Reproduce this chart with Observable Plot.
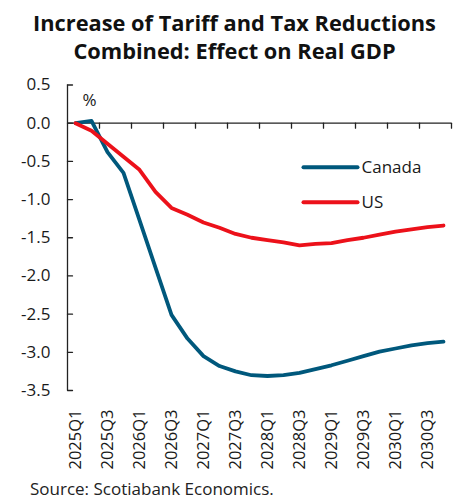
<!DOCTYPE html>
<html>
<head>
<meta charset="utf-8">
<script src="https://cdn.jsdelivr.net/npm/d3@7"></script>
<script src="https://cdn.jsdelivr.net/npm/@observablehq/plot@0.6"></script>
<style>
  html, body { margin: 0; padding: 0; background: #fff; }
  body { width: 469px; height: 500px; overflow: hidden; font-family: "Open Sans", sans-serif; color: #1a1a1a; }
  #title { font-weight: 700; font-size: 21.8px; line-height: 28px; text-align: center; padding-top: 9px; height: 55px; color: #111; white-space: nowrap; }
  #caption { font-size: 17px; line-height: 18px; padding-left: 30px; color: #222; }
  #chart svg { display: block; }
</style>
</head>
<body>
<div id="title">Increase of Tariff and Tax Reductions<br>Combined: Effect on Real GDP</div>
<div id="chart"></div>
<div id="caption">Source: Scotiabank Economics.</div>
<script>
const quarters = [
  "2025Q1","2025Q2","2025Q3","2025Q4",
  "2026Q1","2026Q2","2026Q3","2026Q4",
  "2027Q1","2027Q2","2027Q3","2027Q4",
  "2028Q1","2028Q2","2028Q3","2028Q4",
  "2029Q1","2029Q2","2029Q3","2029Q4",
  "2030Q1","2030Q2","2030Q3","2030Q4"
];
const canada = [0, 0.03, -0.38, -0.65, -1.27, -1.89, -2.51, -2.82, -3.05, -3.18, -3.25, -3.30,
                -3.31, -3.30, -3.27, -3.22, -3.17, -3.11, -3.05, -2.99, -2.95, -2.91, -2.88, -2.86];
const us = [0, -0.10, -0.27, -0.44, -0.61, -0.90, -1.11, -1.20, -1.30, -1.37, -1.45, -1.50,
            -1.53, -1.56, -1.60, -1.58, -1.57, -1.53, -1.50, -1.46, -1.42, -1.39, -1.36, -1.34];
const seriesNames = ["Canada", "US"];
const seriesColors = ["#00587c", "#ec111a"];
const yTicks = [0.5, 0, -0.5, -1, -1.5, -2, -2.5, -3, -3.5];
const unitLabel = "%";

const rows = [];
[canada, us].forEach((vals, s) => vals.forEach((v, i) => rows.push({i, v, series: seriesNames[s]})));
const idx = quarters.map((q, i) => i);
const labelIdx = idx.filter(i => i % 2 === 0);
const boundaries = idx.filter(i => i % 2 === 1).map(i => i + 0.5);

const stick = { draw(context, l) { context.moveTo(0, 0); context.lineTo(0, -l); } };

const axisColor = "#222";
const plot = Plot.plot({
  width: 469,
  height: 416,
  marginLeft: 67,
  marginRight: 18,
  marginTop: 20.5,
  marginBottom: 90,
  style: { fontFamily: "Open Sans, sans-serif", color: "#1a1a1a", background: "#fff" },
  x: { type: "linear", domain: [-0.5, quarters.length - 0.5] },
  y: { domain: [-3.5, 0.5] },
  color: { domain: seriesNames, range: seriesColors },
  marks: [
    Plot.axisY({ ticks: yTicks, tickSize: 0, tickPadding: 17, tickFormat: d => d.toFixed(1).replace("-0.0","0.0"), fontSize: 17, label: null }),
    Plot.ruleX([-0.5], { stroke: axisColor, strokeWidth: 1.3 }),
    Plot.vector(yTicks, { x: -0.5, y: d => d, length: 5, rotate: 90, anchor: "start", shape: stick, stroke: axisColor, strokeWidth: 1.3 }),
    Plot.axisX({ ticks: labelIdx, tickFormat: i => quarters[i], tickRotate: -90, tickSize: 0, tickPadding: 19, fontSize: 16.5, label: null }),
    Plot.ruleY([0], { stroke: axisColor, strokeWidth: 1.3 }),
    Plot.vector(boundaries, { x: d => d, y: 0, length: 5, rotate: 180, anchor: "start", shape: stick, stroke: axisColor, strokeWidth: 1.3 }),
    Plot.text([unitLabel], { frameAnchor: "top-left", textAnchor: "start", lineAnchor: "middle", dx: 15, dy: 16, fontSize: 17, fill: "#1a1a1a" }),
    Plot.line(rows, { x: "i", y: "v", z: "series", stroke: "series", strokeWidth: 3.8, strokeLinejoin: "round", strokeLinecap: "round" }),
    ...seriesNames.map((name, s) => Plot.vector([name], { frameAnchor: "top-left", dx: 236, dy: 82.2 + 35 * s, length: 54, rotate: 90, anchor: "start", shape: stick, stroke: seriesColors[s], strokeWidth: 4, strokeLinecap: "round" })),
    ...seriesNames.map((name, s) => Plot.text([name], { frameAnchor: "top-left", dx: 294, dy: 82.2 + 35 * s, text: d => d, textAnchor: "start", lineAnchor: "middle", fontSize: 17, fill: "#1a1a1a" }))
  ]
});
document.getElementById("chart").appendChild(plot);
</script>
</body>
</html>
